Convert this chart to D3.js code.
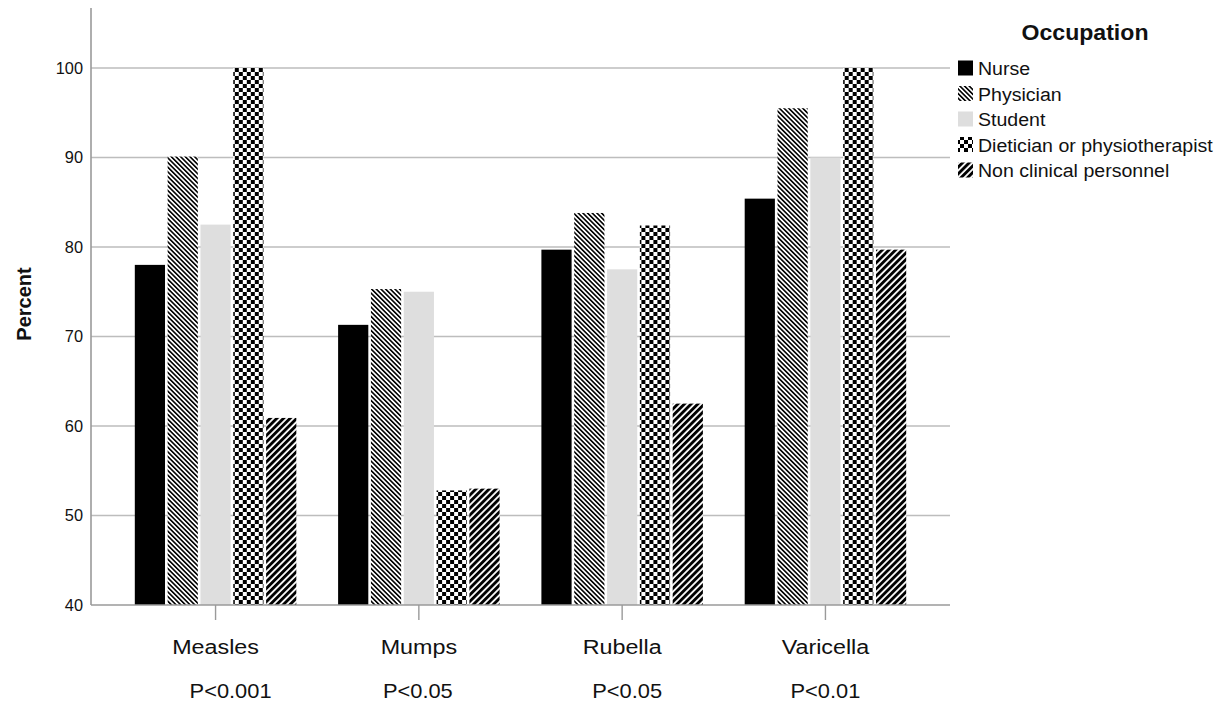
<!DOCTYPE html>
<html>
<head>
<meta charset="utf-8">
<script src="https://cdn.jsdelivr.net/npm/d3@7"></script>
<style>
  html, body { margin: 0; padding: 0; background: #fff; }
  svg { display: block; font-family: "Liberation Sans", Arial, sans-serif; }
</style>
</head>
<body>
<svg id="chart" width="1224" height="705"></svg>
<script>
// ---- Data ----
const categories = ["Measles", "Mumps", "Rubella", "Varicella"];
const seriesNames = ["Nurse", "Physician", "Student", "Dietician or physiotherapist", "Non clinical personnel"];
const nurse = [78.0, 71.3, 79.7, 85.4];
const physician = [90.1, 75.3, 83.8, 95.5];
const student = [82.5, 75.0, 77.5, 90.0];
const dietician = [100, 52.8, 82.4, 100];
const nonClinical = [60.9, 53.0, 62.5, 79.7];
const pValues = ["P<0.001", "P<0.05", "P<0.05", "P<0.01"];
const yTicks = [40, 50, 60, 70, 80, 90, 100];
const legendTitle = "Occupation";
const yTitle = "Percent";

const seriesValues = [nurse, physician, student, dietician, nonClinical];

// ---- Layout ----
const L = 91, R = 950, T = 8, B = 605;
const pLabelDx = [15, -1, 5, 0];
const fills = ["#000", "url(#pPhys)", "#dedede", "url(#pCheck)", "url(#pNon)"];

const svg = d3.select("#chart");

// patterns
const defs = svg.append("defs");
function stripes(id, period, lw, angle) {
  const p = defs.append("pattern").attr("id", id)
    .attr("patternUnits", "userSpaceOnUse")
    .attr("width", period).attr("height", 10)
    .attr("patternTransform", `rotate(${angle})`);
  p.append("rect").attr("width", period).attr("height", 10).attr("fill", "#fff");
  p.append("rect").attr("width", lw).attr("height", 10).attr("fill", "#000");
}
stripes("pPhys", 3.3, 1.6, -45);
stripes("pNon", 4.7, 2.9, 45);
const ck = defs.append("pattern").attr("id", "pCheck")
  .attr("patternUnits", "userSpaceOnUse").attr("width", 8).attr("height", 8);
ck.append("rect").attr("width", 8).attr("height", 8).attr("fill", "#fff");
ck.append("rect").attr("width", 4).attr("height", 4).attr("fill", "#000");
ck.append("rect").attr("x", 4).attr("y", 4).attr("width", 4).attr("height", 4).attr("fill", "#000");

// scales
const y = d3.scaleLinear().domain([40, 106.7]).range([B, T]);
const x0 = d3.scaleBand().domain(categories).range([L, R]).paddingInner(0.2056).paddingOuter(0.2155);
const x1 = d3.scaleBand().domain(seriesNames).range([0, x0.bandwidth()]).paddingInner(0.08);

function addText(parent, x, yy, str, opts) {
  const g = parent.append("g").attr("transform", `translate(${x},${yy}) scale(${opts.sx || 1},1)`);
  return g.append("text").text(str)
    .attr("font-size", opts.size)
    .attr("font-weight", opts.weight || "normal")
    .attr("text-anchor", opts.anchor || "start")
    .attr("fill", opts.fill || "#111");
}

// gridlines
svg.append("g").selectAll("line").data(yTicks.filter(d => d > 40)).join("line")
  .attr("x1", L).attr("x2", R)
  .attr("y1", d => y(d)).attr("y2", d => y(d))
  .attr("stroke", "#bdbdbd").attr("stroke-width", 1.6);

// bars
const groups = svg.append("g").selectAll("g").data(categories).join("g")
  .attr("transform", d => `translate(${x0(d)},0)`);
groups.selectAll("rect")
  .data((c, ci) => seriesNames.map((s, si) => ({ s, si, v: seriesValues[si][ci] })))
  .join("rect")
  .attr("x", d => x1(d.s))
  .attr("width", x1.bandwidth())
  .attr("y", d => y(d.v))
  .attr("height", d => y(40) - y(d.v))
  .attr("fill", d => fills[d.si]);

// axes lines
svg.append("line").attr("x1", L).attr("x2", L).attr("y1", T).attr("y2", B)
  .attr("stroke", "#9a9a9a").attr("stroke-width", 1.6);
svg.append("line").attr("x1", L).attr("x2", R).attr("y1", B).attr("y2", B)
  .attr("stroke", "#9a9a9a").attr("stroke-width", 1.6);

// x ticks
svg.append("g").selectAll("line").data(categories).join("line")
  .attr("x1", d => x0(d) + x0.bandwidth() / 2).attr("x2", d => x0(d) + x0.bandwidth() / 2)
  .attr("y1", B).attr("y2", B + 15)
  .attr("stroke", "#9a9a9a").attr("stroke-width", 1.4);

// y tick labels
yTicks.forEach(t => {
  addText(svg, 83, y(t) + 6, String(t), { size: 16, anchor: "end", sx: 1.02 });
});

// category labels + p-values
categories.forEach((c, i) => {
  const cx = x0(c) + x0.bandwidth() / 2;
  addText(svg, cx, 654, c, { size: 21, anchor: "middle", sx: 1.11 });
  addText(svg, cx + pLabelDx[i], 698, pValues[i], { size: 21, anchor: "middle", sx: 1.04 });
});

// y title
svg.append("text").text(yTitle)
  .attr("transform", "translate(31,304) rotate(-90)")
  .attr("text-anchor", "middle")
  .attr("font-size", 20).attr("font-weight", "bold").attr("fill", "#111");

// legend
addText(svg, 1085, 40, legendTitle, { size: 22, weight: "bold", anchor: "middle", sx: 1.05 });
const lg = svg.append("g");
seriesNames.forEach((s, i) => {
  const cy = 68 + i * 25.5;
  lg.append("rect").attr("x", 958).attr("y", cy - 7.5).attr("width", 15).attr("height", 15)
    .attr("fill", fills[i]);
  addText(lg, 978, cy + 7, s, { size: 19, sx: 1.03 });
});
</script>
</body>
</html>
